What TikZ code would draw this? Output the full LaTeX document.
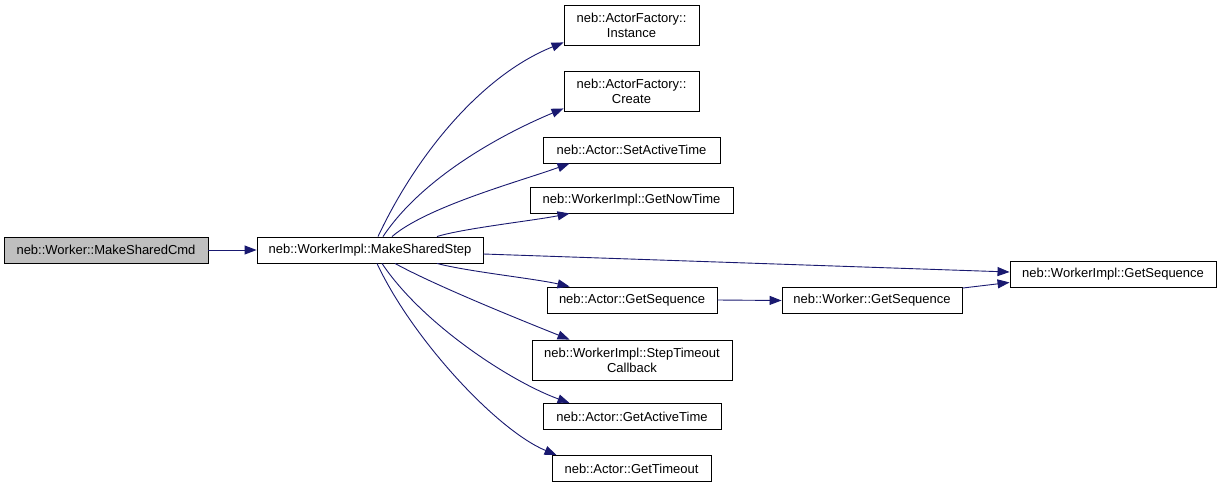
\documentclass[tikz,border=0pt]{standalone}
\usepackage{fontspec}
\setmainfont{Liberation Sans}
\usetikzlibrary{arrows.meta,calc}
\definecolor{edgecol}{HTML}{191970}
\definecolor{cmdfill}{HTML}{BFBFBF}
\begin{document}
\begin{tikzpicture}[x=1pt,y=1pt,
  box/.style={draw=black, line width=0.9pt, fill=white, inner sep=0pt,
    minimum height=26pt, font=\fontsize{13}{15}\selectfont, align=center},
  tall/.style={minimum height=40pt},
  call/.style={draw=edgecol, line width=0.9pt,
    -{Triangle[length=12pt,width=9pt,fill=edgecol]}}]
\useasboundingbox (0,0) rectangle (1221,-488);
\fill[white] (0,0) rectangle (1221,-488);

\node[box, fill=cmdfill, minimum width=204pt] (cmd) at (106,-250) {neb::Worker::MakeSharedCmd};
\node[box, minimum width=226pt] (step) at (370,-250) {neb::WorkerImpl::MakeSharedStep};
\node[box, tall, minimum width=135pt] (inst) at (631.5,-25) {neb::ActorFactory::\\Instance};
\node[box, tall, minimum width=135pt] (create) at (631.5,-91) {neb::ActorFactory::\\Create};
\node[box, minimum width=177pt] (setact) at (631.5,-150) {neb::Actor::SetActiveTime};
\node[box, minimum width=203pt] (nowtime) at (631.5,-200) {neb::WorkerImpl::GetNowTime};
\node[box, minimum width=206pt] (wiseq) at (1113,-274) {neb::WorkerImpl::GetSequence};
\node[box, minimum width=170pt] (aseq) at (632,-300) {neb::Actor::GetSequence};
\node[box, minimum width=180pt] (wseq) at (872,-300.5) {neb::Worker::GetSequence};
\node[box, tall, minimum width=200pt] (stepto) at (632,-360) {neb::WorkerImpl::StepTimeout\\Callback};
\node[box, minimum width=178pt] (gact) at (632,-416.5) {neb::Actor::GetActiveTime};
\node[box, minimum width=159pt] (gto) at (631.5,-468.5) {neb::Actor::GetTimeout};

\draw[call] (cmd.east) -- (step.west);
\draw[call] ([xshift=8pt]step.north) .. controls +(40,85) and +(-80,-32) .. ([yshift=3pt]inst.south west);
\draw[call] ([xshift=13pt]step.north) .. controls +(40,60) and +(-60,-25) .. ([yshift=3pt]create.south west);
\draw[call] ([xshift=22pt]step.north) .. controls +(35,30) and +(-50,-18) .. ([xshift=27pt]setact.south west);
\draw[call] ([xshift=67pt]step.north) .. controls +(25,8) and +(-35,-7) .. ([xshift=40pt]nowtime.south west);
\draw[call] ([yshift=-4pt]step.east) -- ([yshift=2pt]wiseq.west);
\draw[call] ([xshift=67pt]step.south) .. controls +(30,-8) and +(-35,8) .. ([xshift=23pt]aseq.north west);
\draw[call] ([xshift=25pt]step.south) .. controls +(40,-22) and +(-50,20) .. ([xshift=38pt]stepto.north west);
\draw[call] ([xshift=12pt]step.south) .. controls +(40,-60) and +(-60,22) .. ([xshift=27pt]gact.north west);
\draw[call] ([xshift=7pt]step.south) .. controls +(35,-75) and +(-60,25) .. ([xshift=5pt]gto.north west);
\draw[call] (aseq.east) -- (wseq.west);
\draw[call] ([yshift=-1pt]wseq.north east) -- ([yshift=5pt]wiseq.south west);
\end{tikzpicture}
\end{document}
